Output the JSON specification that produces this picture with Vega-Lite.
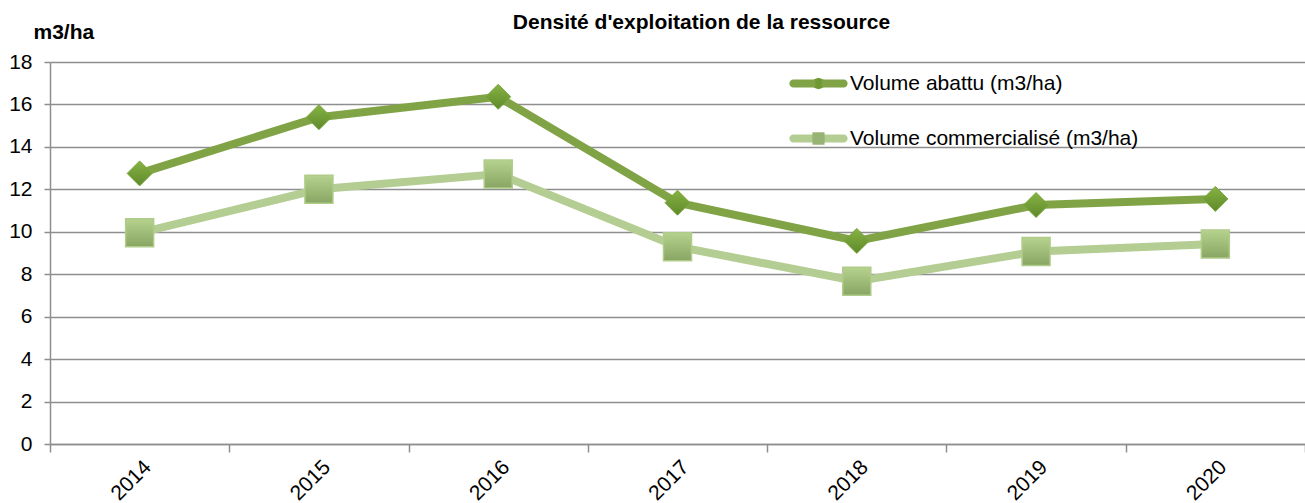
{
  "$schema": "https://vega.github.io/schema/vega-lite/v6.json",
  "width": 1255,
  "height": 382,
  "autosize": "none",
  "padding": {"left": 50, "top": 62, "right": 0, "bottom": 59},
  "background": "white",
  "title": {
    "text": "Densité d'exploitation de la ressource",
    "font": "Liberation Sans",
    "fontSize": 21,
    "fontWeight": "bold",
    "color": "#000000",
    "anchor": "middle",
    "frame": "group",
    "dx": 24,
    "offset": -12
  },
  "config": {
    "view": {"stroke": null},
    "axis": {
      "labelFont": "Liberation Sans",
      "labelFontSize": 21,
      "labelColor": "#000000",
      "titleFont": "Liberation Sans",
      "domainColor": "#8e8e8e",
      "domainWidth": 1.5,
      "tickColor": "#8e8e8e",
      "tickWidth": 1.5,
      "gridColor": "#8e8e8e",
      "gridWidth": 1.5
    }
  },
  "data": {
    "values": [
      {"annee": "2014", "serie": "Volume abattu (m3/ha)", "valeur": 12.75},
      {"annee": "2015", "serie": "Volume abattu (m3/ha)", "valeur": 15.4},
      {"annee": "2016", "serie": "Volume abattu (m3/ha)", "valeur": 16.36},
      {"annee": "2017", "serie": "Volume abattu (m3/ha)", "valeur": 11.37},
      {"annee": "2018", "serie": "Volume abattu (m3/ha)", "valeur": 9.57},
      {"annee": "2019", "serie": "Volume abattu (m3/ha)", "valeur": 11.26},
      {"annee": "2020", "serie": "Volume abattu (m3/ha)", "valeur": 11.55},
      {"annee": "2014", "serie": "Volume commercialisé (m3/ha)", "valeur": 9.95},
      {"annee": "2015", "serie": "Volume commercialisé (m3/ha)", "valeur": 12.0},
      {"annee": "2016", "serie": "Volume commercialisé (m3/ha)", "valeur": 12.72},
      {"annee": "2017", "serie": "Volume commercialisé (m3/ha)", "valeur": 9.3},
      {"annee": "2018", "serie": "Volume commercialisé (m3/ha)", "valeur": 7.67},
      {"annee": "2019", "serie": "Volume commercialisé (m3/ha)", "valeur": 9.07},
      {"annee": "2020", "serie": "Volume commercialisé (m3/ha)", "valeur": 9.42}
    ]
  },
  "encoding": {
    "x": {
      "field": "annee",
      "type": "ordinal",
      "bandPosition": 0.5,
      "scale": {"type": "band", "paddingInner": 0, "paddingOuter": 0},
      "axis": {
        "title": null,
        "labelAngle": -45,
        "tickBand": "extent",
        "grid": false,
        "tickSize": 8,
        "labelPadding": 4,
        "labelDx": -7,
        "labelDy": -5
      }
    },
    "y": {
      "field": "valeur",
      "type": "quantitative",
      "scale": {"domain": [0, 18], "nice": false, "zero": true},
      "axis": {
        "values": [0, 2, 4, 6, 8, 10, 12, 14, 16, 18],
        "tickSize": 6,
        "labelPadding": 12,
        "grid": true,
        "title": "m3/ha",
        "titleAngle": 0,
        "titleAlign": "left",
        "titleBaseline": "alphabetic",
        "titleX": -17,
        "titleY": -24,
        "titleFontSize": 21,
        "titleFontWeight": "bold",
        "titleColor": "#000000"
      }
    }
  },
  "layer": [
    {
      "mark": {"type": "line", "strokeWidth": 8, "strokeCap": "butt", "strokeJoin": "miter"},
      "encoding": {
        "color": {
          "field": "serie",
          "type": "nominal",
          "scale": {
            "domain": ["Volume abattu (m3/ha)", "Volume commercialisé (m3/ha)"],
            "range": ["#80a445", "#b3cd93"]
          },
          "legend": {
            "title": null,
            "orient": "none",
            "legendX": 742,
            "legendY": -5,
            "padding": 0,
            "rowPadding": 18,
            "symbolSize": 2809,
            "symbolStrokeWidth": 0,
            "labelFont": "Liberation Sans",
            "labelFontSize": 21,
            "labelColor": "#000000",
            "labelOffset": 5,
            "labelLimit": 400,
            "encode": {
              "symbols": {
                "update": {
                  "shape": [
                    {"test": "datum.index === 0", "value": "M-0.95,-0.15 L-0.2,-0.15 L0,-0.22 L0.2,-0.15 L0.95,-0.15 A0.15,0.15 0 0 1 0.95,0.15 L0.2,0.15 L0,0.22 L-0.2,0.15 L-0.95,0.15 A0.15,0.15 0 0 1 -0.95,-0.15 Z"},
                    {"value": "M-0.95,-0.15 L-0.23,-0.15 L-0.23,-0.24 L0.23,-0.24 L0.23,-0.15 L0.95,-0.15 A0.15,0.15 0 0 1 0.95,0.15 L0.23,0.15 L0.23,0.24 L-0.23,0.24 L-0.23,0.15 L-0.95,0.15 A0.15,0.15 0 0 1 -0.95,-0.15 Z"}
                  ],
                  "fill": [
                    {"test": "datum.index === 0", "value": {"gradient": "linear", "x1": 0, "y1": 0, "x2": 1, "y2": 0, "stops": [{"offset": 0, "color": "#80a445"}, {"offset": 0.44, "color": "#80a445"}, {"offset": 0.45, "color": "#6f9a33"}, {"offset": 0.55, "color": "#6f9a33"}, {"offset": 0.56, "color": "#80a445"}, {"offset": 1, "color": "#80a445"}]}},
                    {"value": {"gradient": "linear", "x1": 0, "y1": 0, "x2": 1, "y2": 0, "stops": [{"offset": 0, "color": "#b3cd93"}, {"offset": 0.39, "color": "#b3cd93"}, {"offset": 0.4, "color": "#98b474"}, {"offset": 0.6, "color": "#98b474"}, {"offset": 0.61, "color": "#b3cd93"}, {"offset": 1, "color": "#b3cd93"}]}}
                  ],
                  "stroke": {"value": "transparent"},
                  "strokeWidth": {"value": 0},
                  "opacity": {"value": 1},
                  "fillOpacity": {"value": 1}
                }
              }
            }
          }
        }
      }
    },
    {
      "transform": [{"filter": "datum.serie === 'Volume abattu (m3/ha)'"}],
      "mark": {
        "type": "point",
        "shape": "diamond",
        "size": 625,
        "filled": true,
        "opacity": 1,
        "strokeWidth": 1,
        "stroke": "#7aa63c",
        "fill": {"gradient": "linear", "x1": 0, "y1": 0, "x2": 0, "y2": 1, "stops": [{"offset": 0, "color": "#86b343"}, {"offset": 1, "color": "#5f892b"}]}
      }
    },
    {
      "transform": [{"filter": "datum.serie === 'Volume commercialisé (m3/ha)'"}],
      "mark": {
        "type": "point",
        "shape": "square",
        "size": 784,
        "filled": true,
        "opacity": 1,
        "strokeWidth": 1.5,
        "stroke": "#b0cc89",
        "fill": {"gradient": "linear", "x1": 0, "y1": 0, "x2": 0, "y2": 1, "stops": [{"offset": 0, "color": "#b6d28e"}, {"offset": 1, "color": "#88a563"}]}
      }
    }
  ]
}
